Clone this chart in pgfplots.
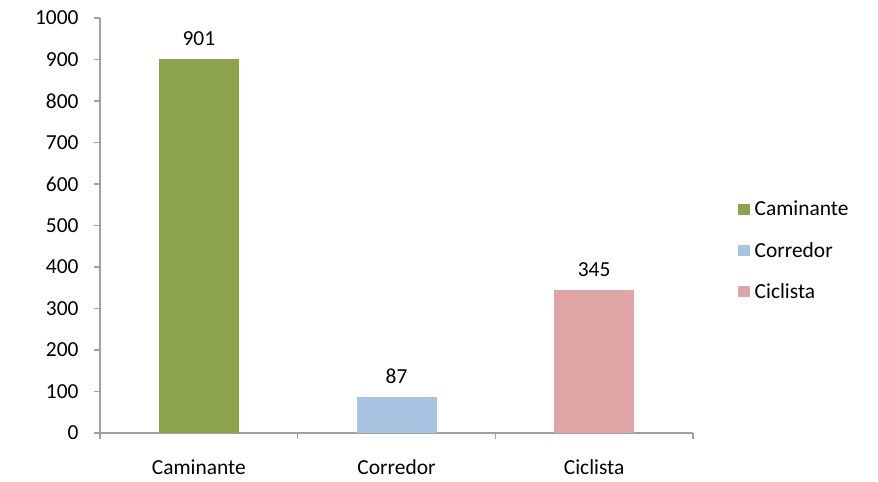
\documentclass[border=0pt]{standalone}
\usepackage{pgfplots}
\pgfplotsset{compat=1.18}
\usepackage{fontspec}
\setmainfont{Carlito}
\definecolor{cgreen}{HTML}{8AA34C}
\definecolor{cblue}{HTML}{A7C3E2}
\definecolor{cpink}{HTML}{E0A6A5}
\definecolor{axgray}{HTML}{A0A0A0}
\begin{document}
\begin{tikzpicture}
\begin{axis}[
  at={(0,0)}, anchor=south west,
  scale only axis, width=593bp, height=415bp,
  xmin=-0.5, xmax=2.5, ymin=0, ymax=1000,
  axis x line=bottom, axis y line=left,
  axis line style={draw=axgray, line width=1.3bp, -},
  xtick={0,1,2}, xticklabels={Caminante,Corredor,Ciclista},
  major x tick style={draw=none},
  minor xtick={-0.5,0.5,1.5,2.5},
  minor x tick style={draw=axgray, line width=1.3bp},
  ytick={0,100,...,1000},
  y tick style={draw=axgray, line width=1.3bp},
  tick align=outside,
  major tick length=6bp, minor tick length=6bp,
  /pgf/number format/assume math mode=true,
  /pgf/number format/1000 sep={},
  ticklabel style={font=\fontsize{21.5}{24}\selectfont},
  xticklabel style={yshift=-17bp},
  yticklabel style={xshift=-12bp},
  ybar, bar width=80bp, bar shift=0pt,
  nodes near coords,
  nodes near coords style={font=\fontsize{21.5}{24}\selectfont, yshift=10bp},
  legend style={draw=none, at={(1.07,0.44)}, anchor=west,
    font=\fontsize{21.5}{24}\selectfont, row sep=21bp,
    legend cell align=left},
  legend image code/.code={\fill[#1] (0bp,-5.5bp) rectangle (12bp,5.5bp);
    \path (0bp,0bp) -- (15bp,0bp);},
]
\addplot[fill=cgreen, draw=none] coordinates {(0,901)};
\addplot[fill=cblue, draw=none] coordinates {(1,87)};
\addplot[fill=cpink, draw=none] coordinates {(2,345)};
\legend{Caminante,Corredor,Ciclista}
\end{axis}
\pgfresetboundingbox
\path[use as bounding box] (-100bp,-49bp) rectangle (778bp,433bp);
\end{tikzpicture}
\end{document}
